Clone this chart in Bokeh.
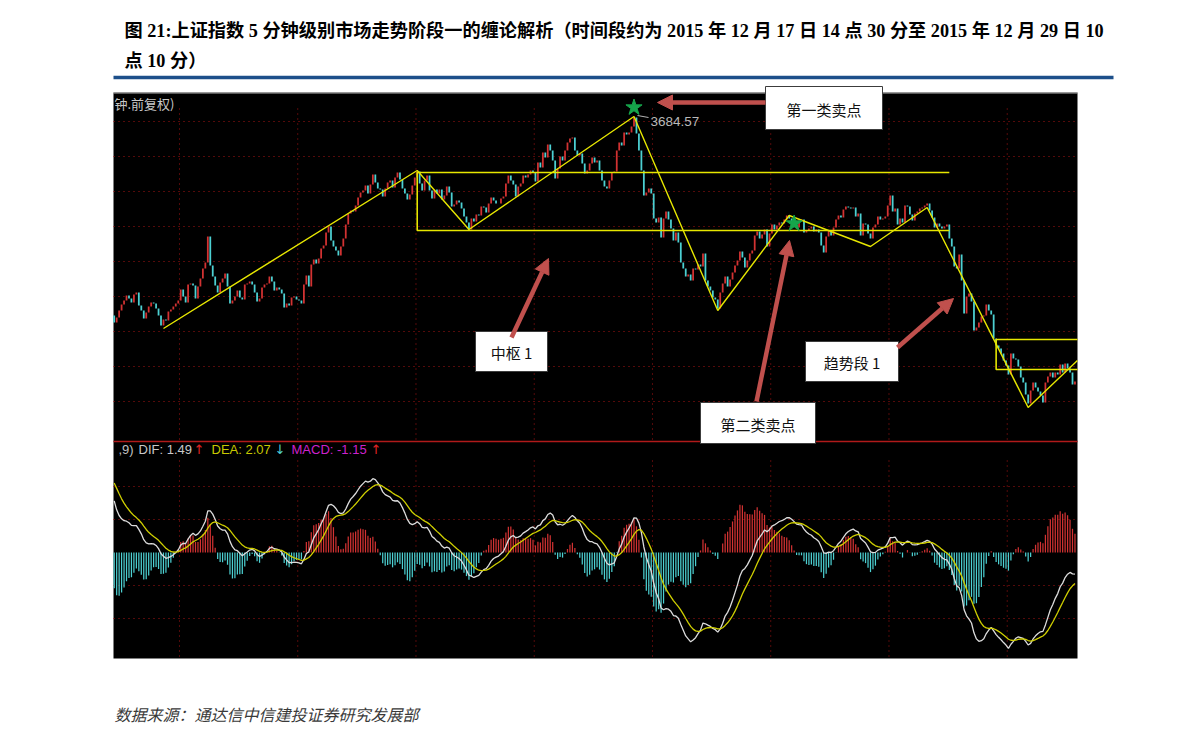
import numpy as np
from bokeh.plotting import figure
from bokeh.models import Range1d, Label, Arrow, NormalHead, ColumnDataSource
from bokeh.embed import file_html
from bokeh.resources import INLINE

# ---------------- data ----------------
# 5-minute closes of the Shanghai Composite, one per bar (bar 0 = left edge)
close = [
    3581.5, 3584, 3587.5, 3590.5, 3592.5, 3595, 3593.5, 3591.5, 3595.5, 3596.5,
    3590, 3587.5, 3583.5, 3586.5, 3589.5, 3591.5, 3591, 3588.5, 3585, 3580,
    3583, 3582.5, 3587, 3588, 3589.5, 3591, 3592.5, 3598, 3594.5, 3591.5,
    3600.5, 3601, 3600, 3593.5, 3599.5, 3603.5, 3608.5, 3611.5, 3624.5, 3610,
    3604.5, 3600, 3596.5, 3601.5, 3603.5, 3606, 3599.5, 3591, 3592.5, 3594.5,
    3597.5, 3594, 3593, 3600.5, 3601, 3602, 3600.5, 3596.5, 3592, 3593.5,
    3599, 3600.5, 3601, 3604.5, 3602, 3597.5, 3599, 3598, 3596, 3589,
    3591, 3590, 3594, 3594.5, 3593, 3592.5, 3591, 3600.5, 3605, 3599.5,
    3610.5, 3613, 3611, 3613.5, 3618.5, 3620, 3626.5, 3629.5, 3622.5, 3619.5,
    3617.5, 3615, 3619.5, 3623.5, 3630.5, 3636, 3637.5, 3637, 3640, 3644,
    3646.5, 3647.5, 3650, 3646, 3650.5, 3655.5, 3651.5, 3648.5, 3648, 3644.5,
    3648.5, 3651.5, 3652.5, 3649, 3654, 3656.5, 3653, 3648.5, 3646, 3643,
    3645.5, 3650, 3654, 3657, 3651, 3647.5, 3652.5, 3655, 3647.5, 3643.5,
    3648, 3646, 3648, 3643, 3645, 3649.5, 3646.5, 3639.5, 3640.5, 3642.5,
    3641.5, 3638.5, 3634.5, 3631.5, 3628, 3633.5, 3632, 3635.5, 3635, 3639.5,
    3639, 3636.5, 3641, 3644, 3642.5, 3641, 3641, 3643.5, 3644.5, 3651,
    3655, 3652.5, 3650.5, 3644.5, 3649.5, 3651, 3655, 3654, 3655.5, 3657.5,
    3656.5, 3652, 3661.5, 3659, 3666.5, 3664, 3670.5, 3667.5, 3662.5, 3653.5,
    3658.5, 3664.5, 3662.5, 3667.5, 3671.5, 3673.5, 3674, 3667.5, 3665, 3666,
    3661, 3656, 3657.5, 3661, 3664, 3661.5, 3662.5, 3657.5, 3652.5, 3649.5,
    3648.5, 3652.5, 3656.5, 3657, 3667.5, 3671.5, 3670, 3676.5, 3675.5, 3676.5,
    3679.5, 3684, 3676, 3667.5, 3657.5, 3645, 3646.5, 3648.5, 3646, 3633.5,
    3631.5, 3634, 3624, 3633.5, 3637, 3633, 3628.5, 3622.5, 3626.5, 3621.5,
    3611.5, 3608.5, 3604.5, 3605.5, 3602.5, 3608.5, 3608, 3610.5, 3609.5, 3616,
    3602.5, 3599.5, 3597.5, 3594, 3593, 3588.5, 3596.5, 3601, 3604.5, 3599.5,
    3603, 3606.5, 3610, 3612.5, 3617, 3614, 3609, 3612.5, 3616, 3617.5,
    3625, 3627, 3623.5, 3625.5, 3628, 3619.5, 3626, 3630.5, 3628, 3630,
    3631.5, 3631, 3633, 3635, 3633.5, 3631, 3629.5, 3629, 3632.5, 3633,
    3626.5, 3627.5, 3628.5, 3629.5, 3627, 3628, 3626.5, 3620, 3616.5, 3624.5,
    3627.5, 3625, 3629, 3633, 3635, 3634, 3638, 3639.5, 3639, 3638.5,
    3639, 3634.5, 3636, 3625, 3631, 3630.5, 3626, 3623.5, 3629, 3630.5,
    3634.5, 3633, 3633.5, 3634.5, 3640, 3645, 3637, 3638.5, 3630.5, 3633.5,
    3631.5, 3640, 3639.5, 3635.5, 3632.5, 3636, 3637, 3638.5, 3639, 3640,
    3641, 3637.5, 3634, 3629, 3631, 3629.5, 3628.5, 3629.5, 3630.5, 3623.5,
    3619.5, 3609.5, 3608.5, 3615.5, 3602.5, 3586, 3594.5, 3596, 3592, 3577.5,
    3579, 3581.5, 3584.5, 3585, 3590.5, 3587.5, 3585.5, 3573.5, 3570, 3568.5,
    3566, 3562.5, 3560, 3555.5, 3566, 3563.5, 3563, 3559.5, 3554, 3551.5,
    3545.5, 3541, 3547.5, 3551.5, 3549, 3547, 3545, 3541.5, 3551.5, 3554.5,
    3556.5, 3554, 3556.5, 3555.5, 3560.5, 3556.5, 3561, 3558.5, 3556.5, 3550.5,
    3552,
]
first_open = 3585.0

# Chan-theory strokes (bar index, price)
pivot_idx = [20, 123, 144, 211, 245, 274, 307, 330, 371, 391]
pivot_price = [3578.5, 3657.5, 3628, 3684.5, 3587.5, 3635, 3619.5, 3639, 3539, 3562.5]

# centres (中枢): bar span and price band
zs_left = [123, 358]
zs_right = [339, 391]
zs_high = [3656.5, 3573]
zs_low = [3627.5, 3558]

# sell-point stars
sell_idx = [211, 276]
sell_price = [3689, 3631]
peak_value = 3684.57

# MACD(12,26,9) state at the left edge
dif_start = 9.7
dea_start = 11.2
ema26_start = 3586.3
header_dif, header_dea, header_macd = 1.49, 2.07, -1.15

title_line1 = "图 21:上证指数 5 分钟级别市场走势阶段一的缠论解析（时间段约为 2015 年 12 月 17 日 14 点 30 分至 2015 年 12 月 29 日 10"
title_line2 = "点 10 分）"
source_text = "数据来源：通达信中信建投证券研究发展部"
period_text = "钟.前复权)"
notes = ["第一类卖点", "中枢 1", "第二类卖点", "趋势段 1"]

# ---------------- layout (page pixels) ----------------
W, H = 1183, 734
X0, Y0 = 0, 0
PANEL_L, PANEL_R, PANEL_T, PANEL_B = 113, 1077, 92, 658
SPLIT_Y = 441
BAR0_PX, BAR_PX = 113.7, 2.4635
PRICE_AT_TOP, PX_PER_POINT = 3742.5, 2.0
MACD_ZERO_Y, PX_PER_MACD = 552.0, 6.6


def bar_at(px):
    return (px - BAR0_PX) / BAR_PX


def price_at(py):
    return PRICE_AT_TOP - py / PX_PER_POINT


def macd_at(py):
    return (MACD_ZERO_Y - py) / PX_PER_MACD


# ---------------- derived series ----------------
n = len(close)
idx = np.arange(n)
c = np.array(close, dtype=float)
o = np.concatenate([[first_open], c[:-1]])
up = c >= o
RED, CYAN = "#d23232", "#4cd0d2"
candles = ColumnDataSource(dict(
    x=idx, top=np.maximum(o, c), bottom=np.minimum(o, c),
    color=[RED if u else CYAN for u in up]))

a12, a26, a9 = 2 / 13, 2 / 27, 2 / 10
ema26 = ema26_start
ema12 = ema26_start + dif_start
dea = dea_start
dif_l, dea_l = [], []
for v in c:
    ema12 = a12 * v + (1 - a12) * ema12
    ema26 = a26 * v + (1 - a26) * ema26
    d = ema12 - ema26
    dea = a9 * d + (1 - a9) * dea
    dif_l.append(d)
    dea_l.append(dea)
dif_a = np.array(dif_l)
dea_a = np.array(dea_l)
hist = 2 * (dif_a - dea_a)
hist_src = ColumnDataSource(dict(
    x=idx, top=np.maximum(hist, 0), bottom=np.minimum(hist, 0),
    color=[RED if h >= 0 else CYAN for h in hist]))

# ---------------- figure ----------------
p = figure(width=W, height=H,
           x_range=Range1d(bar_at(X0), bar_at(X0 + W)),
           y_range=Range1d(price_at(Y0 + H), price_at(Y0)),
           output_backend="svg", toolbar_location=None,
           x_axis_location=None, y_axis_location=None,
           min_border=0, outline_line_color=None,
           background_fill_color="white", border_fill_color="white")
p.xgrid.visible = False
p.ygrid.visible = False
p.extra_x_ranges = {"px": Range1d(X0, X0 + W)}
p.extra_y_ranges = {"py": Range1d(Y0 + H, Y0),
                    "macd": Range1d(macd_at(Y0 + H), macd_at(Y0))}
PXY = dict(x_range_name="px", y_range_name="py")

# black chart panel
p.quad(left=[PANEL_L], right=[PANEL_R], top=[PANEL_T], bottom=[PANEL_B],
       fill_color="black", line_color=None, **PXY)
p.segment(x0=[PANEL_L], y0=[PANEL_T + 0.5], x1=[PANEL_R], y1=[PANEL_T + 0.5],
          line_color="#b4b4b4", line_width=1.2, **PXY)

# dotted grids
GRID = "#a81414"
grid_prices = [price_at(121 + 35 * k) for k in range(9)]
p.segment(x0=[PANEL_L] * 9, x1=[PANEL_R] * 9, y0=grid_prices, y1=grid_prices,
          x_range_name="px", line_color=GRID, line_width=1, line_dash="1 4")
macd_grid = [-10, -5, 5, 10]
p.segment(x0=[PANEL_L] * 4, x1=[PANEL_R] * 4, y0=macd_grid, y1=macd_grid,
          x_range_name="px", y_range_name="macd", line_color=GRID,
          line_width=1, line_dash="1 4")
day_sep = [26.5 + 48 * k for k in range(8)]
p.segment(x0=day_sep, x1=day_sep, y0=[108] * 8, y1=[SPLIT_Y - 1] * 8,
          y_range_name="py", line_color=GRID, line_width=1, line_dash="1 4")
p.segment(x0=day_sep, x1=day_sep, y0=[460] * 8, y1=[PANEL_B] * 8,
          y_range_name="py", line_color=GRID, line_width=1, line_dash="1 4")
p.segment(x0=[PANEL_L], x1=[PANEL_R], y0=[SPLIT_Y], y1=[SPLIT_Y],
          line_color="#b01a1a", line_width=1.5, **PXY)

# candles
p.vbar(x="x", width=0.72, top="top", bottom="bottom", source=candles,
       fill_color="color", line_color=None)

# centres and strokes
for l, r, hi, lo in zip(zs_left, zs_right, zs_high, zs_low):
    p.line(x=[r, l, l, r], y=[hi, hi, lo, lo], line_color="#e6e600", line_width=1.6)
p.line(x=pivot_idx, y=pivot_price, line_color="#e6e600", line_width=1.4)

p.scatter(x=sell_idx, y=sell_price, marker="star", size=17,
          fill_color="#16a54b", line_color="#16a54b")

p.line(x=[637, 648], y=[115, 117], line_color="#b4b4b4", line_width=1, **PXY)
p.add_layout(Label(x=650, y=121, text=f"{peak_value:.2f}", text_color="#b9b9b9",
                   text_font="Liberation Sans", text_font_size="13.5px",
                   text_baseline="middle", **PXY))
p.add_layout(Label(x=114, y=103, text=period_text, text_color="#c8c8c8",
                   text_font="Noto Sans CJK SC", text_font_size="13px",
                   text_baseline="middle", **PXY))

# MACD panel
p.vbar(x="x", width=0.5, top="top", bottom="bottom", source=hist_src,
       fill_color="color", line_color=None, y_range_name="macd")
p.line(x=idx, y=dif_a, line_color="#dcdcdc", line_width=1.3, y_range_name="macd")
p.line(x=idx, y=dea_a, line_color="#cfcf00", line_width=1.3, y_range_name="macd")

header = [
    (118, ",9)", "#c0c0c0", "Liberation Sans"),
    (138, f"DIF: {header_dif:.2f}", "#c8c8c8", "Liberation Sans"),
    (193, "↑", "#e02424", "DejaVu Sans"),
    (211, f"DEA: {header_dea:.2f}", "#c8c800", "Liberation Sans"),
    (274, "↓", "#4fd0d2", "DejaVu Sans"),
    (291, f"MACD: {header_macd:.2f}", "#cc22cc", "Liberation Sans"),
    (370, "↑", "#e02424", "DejaVu Sans"),
]
for hx, ht, hc, hf in header:
    p.add_layout(Label(x=hx, y=449, text=ht, text_color=hc, text_font=hf,
                       text_font_size="13px", text_baseline="middle", **PXY))

# annotation boxes and arrows
boxes = [(765, 882, 86, 129), (475, 547, 331, 371), (700, 815, 402, 443), (805, 898, 341, 381)]
for (bl, br, bt, bb), t in zip(boxes, notes):
    p.quad(left=[bl], right=[br], top=[bt], bottom=[bb], fill_color="white",
           line_color="#3c3c3c", line_width=1, **PXY)
    p.add_layout(Label(x=(bl + br) / 2, y=(bt + bb) / 2 + 1, text=t, text_color="#111111",
                       text_font="Noto Sans CJK SC", text_font_size="15px",
                       text_align="center", text_baseline="middle", **PXY))

ARROW = "#c0504d"
arrows = [(765, 102, 657, 102), (511, 337, 548, 258), (756, 401, 789, 240), (897, 347, 953, 298)]
for xs, ys, xe, ye in arrows:
    p.add_layout(Arrow(end=NormalHead(size=15, fill_color=ARROW, line_color=ARROW),
                       x_start=xs, y_start=ys, x_end=xe, y_end=ye,
                       line_color=ARROW, line_width=4.5, **PXY))

# title, rule and source
TITLE_FONT = "'Liberation Serif', 'Noto Sans CJK SC'"
p.add_layout(Label(x=124, y=30, text=title_line1, text_color="black", text_font=TITLE_FONT,
                   text_font_size="18.2px", text_font_style="bold", text_baseline="middle", **PXY))
p.add_layout(Label(x=124, y=60, text=title_line2, text_color="black", text_font=TITLE_FONT,
                   text_font_size="18.2px", text_font_style="bold", text_baseline="middle", **PXY))
p.segment(x0=[113], y0=[77], x1=[1113], y1=[77], line_color="#1d4f8a", line_width=3.5, **PXY)
p.add_layout(Label(x=114, y=713, text=source_text, text_color="#3a3a3a",
                   text_font="Noto Sans CJK SC", text_font_size="16px",
                   text_font_style="italic", text_baseline="middle", **PXY))

open("out.html", "w").write(file_html(p, INLINE))
